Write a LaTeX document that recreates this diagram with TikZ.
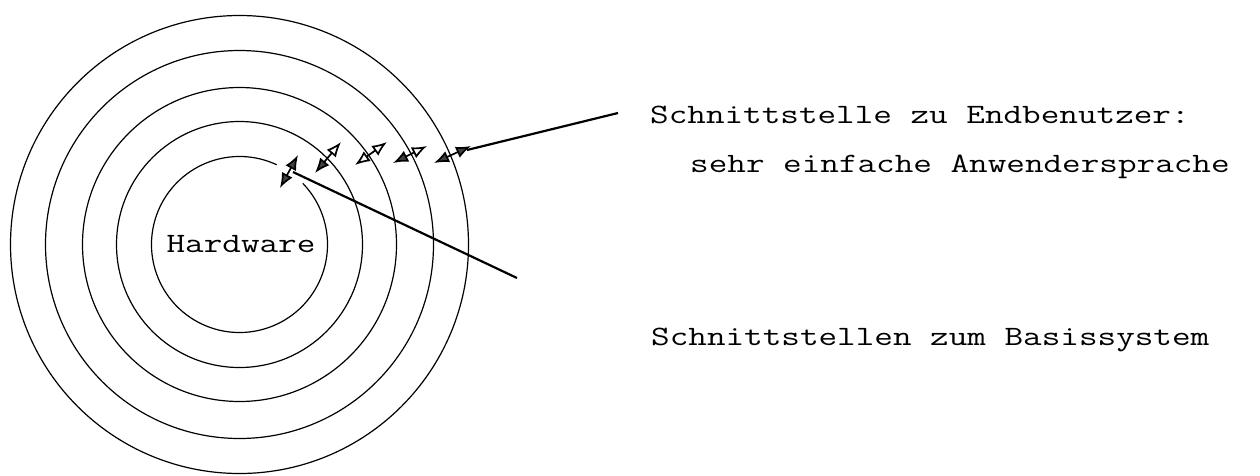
\documentclass[tikz,border=0pt]{standalone}
\usepackage{graphicx}
\usetikzlibrary{arrows.meta}
\newcommand\wtxt[1]{\scalebox{1.29}[1]{#1}}
\begin{document}
\begin{tikzpicture}[x=1pt,y=-1pt,
  ring/.style={line width=1.2pt},
  leader/.style={line width=2.2pt},
  link/.style={line width=1.7pt},
  txt/.style={anchor=base west, inner sep=0pt, font=\ttfamily\fontsize{28}{34}\selectfont},
  hw/.style={anchor=base, inner sep=0pt, font=\ttfamily\fontsize{28}{34}\selectfont},
  fh/.tip={Latex[length=15pt,width=12pt,fill=black!75]},
  oh/.tip={Latex[length=15pt,width=12pt,fill=white]}]
\useasboundingbox (0,0) rectangle (1260,475);
\coordinate (c) at (239.5,244.5);
% rings
\draw[ring] ([shift={(65:88pt)}]c) arc[start angle=65,end angle=404,radius=88pt];
\foreach \r in {123,157,194,229} \draw[ring] (c) circle[radius=\r pt];
\node[hw] (hw) at (241,252) {\wtxt{Hardware}};
% interface arrows
\coordinate (a1s) at (280,188); \coordinate (a1e) at (298,155);
\coordinate (a2s) at (315,173); \coordinate (a2e) at (341,142);
\coordinate (a3s) at (355,165); \coordinate (a3e) at (387,142);
\coordinate (a4s) at (393,163); \coordinate (a4e) at (427,146);
\coordinate (a5s) at (434,163); \coordinate (a5e) at (471,146);
\draw[link,{fh}-{fh}] (a1s) -- (a1e);
\draw[link,{fh}-{oh}] (a2s) -- (a2e);
\draw[link,{oh}-{oh}] (a3s) -- (a3e);
\draw[link,{fh}-{oh}] (a4s) -- (a4e);
\draw[link,{fh}-{fh}] (a5s) -- (a5e);
% labels
\node[txt] (t1) at (650,123) {\wtxt{Schnittstelle zu Endbenutzer:}};
\node[txt] (t2) at (690,172) {\wtxt{sehr einfache Anwendersprache}};
\node[txt] (t3) at (651,345) {\wtxt{Schnittstellen zum Basissystem}};
% leader lines
\coordinate (l1a) at (467,150); \coordinate (l1b) at (618,113);
\draw[leader] (l1a) -- (l1b);
\coordinate (l2a) at (293,172); \coordinate (l2b) at (517,278);
\draw[leader] (l2a) -- (l2b);
\end{tikzpicture}
\end{document}
